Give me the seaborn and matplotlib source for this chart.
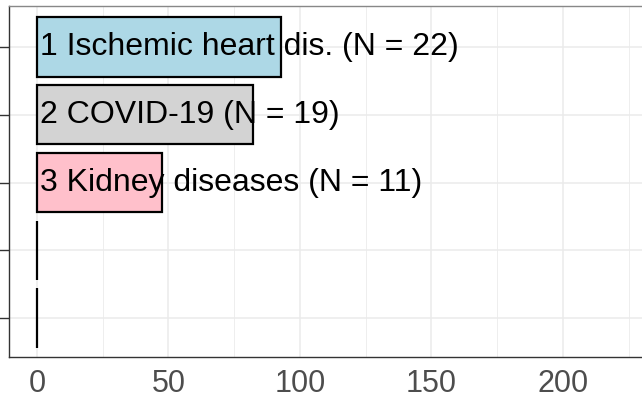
import matplotlib
matplotlib.use("Agg")
import matplotlib.pyplot as plt
import seaborn as sns
import pandas as pd

# data
ranks = ["1", "2", "3", "4", "5"]
values = [92.8, 82.0, 47.5, 0, 0]
labels = ["1 Ischemic heart dis. (N = 22)", "2 COVID-19 (N = 19)",
          "3 Kidney diseases (N = 11)", "", ""]
colors = ["#ADD8E6", "#D3D3D3", "#FFC0CB", "#FFFFFF", "#FFFFFF"]

df = pd.DataFrame({"rank": ranks, "value": values, "label": labels})

sns.set_style("white")
plt.rcParams["font.family"] = ["Liberation Sans", "DejaVu Sans"]

fig = plt.figure(figsize=(6.42, 4.01), dpi=100)
ax = fig.add_axes([9 / 642, 1 - 357 / 401, 1 - 9 / 642, (357 - 6) / 401])

sns.barplot(data=df, x="value", y="rank", hue="rank", palette=colors,
            orient="h", width=0.88, edgecolor="black", linewidth=1.6,
            saturation=1, legend=False, ax=ax)

for i, row in df.iterrows():
    ax.text(1.0, i, row["label"], va="center", ha="left", fontsize=23,
            color="black")

ax.set_xlim(-10.6, 230.1)
ax.set_ylim(4.57, -0.6)
ax.set_xticks([0, 50, 100, 150, 200])
ax.set_xticks([25, 75, 125, 175, 225], minor=True)
ax.set_yticklabels(["" for _ in ranks])
ax.grid(True, which="major", color="#EBEBEB", linewidth=1.1)
ax.grid(True, which="minor", axis="x", color="#EBEBEB", linewidth=0.6)
ax.set_axisbelow(True)
ax.tick_params(axis="x", which="major", length=6, width=1, color="#333333",
               labelsize=22, labelcolor="#4D4D4D", pad=3)
ax.tick_params(axis="x", which="minor", length=0)
ax.tick_params(axis="y", length=7, width=1, color="#333333", left=True)
ax.set_xlabel("")
ax.set_ylabel("")
for s in ["left", "bottom"]:
    ax.spines[s].set_color("#333333")
    ax.spines[s].set_linewidth(1.0)
ax.spines["top"].set_color("#888888")
ax.spines["top"].set_linewidth(1.0)
ax.spines["right"].set_visible(False)

fig.savefig("out.png", dpi=100)
